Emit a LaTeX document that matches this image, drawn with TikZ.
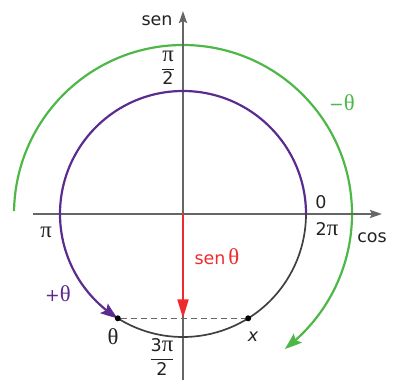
\documentclass[tikz,border=0pt]{standalone}
\usepackage{fontspec}
\setmainfont{DejaVu Sans}
\newfontfamily\gk[Scale=1.3]{Liberation Serif}
\usetikzlibrary{arrows.meta,bending}
\definecolor{grn}{HTML}{4DB848}
\definecolor{pur}{HTML}{5B2C8F}
\definecolor{rd}{HTML}{EE2A2E}
\definecolor{axg}{HTML}{666666}
\definecolor{txt}{HTML}{222222}
\begin{document}
\begin{tikzpicture}[x=1pt,y=1pt,
  font=\fontsize{17.5}{19}\selectfont,
  axis/.style={draw=axg,line width=2pt,-{Stealth[length=12pt,width=8pt,inset=2pt]}},
  lbl/.style={inner sep=0pt,text=txt},
  dot/.style={circle,fill=black,inner sep=0pt,minimum size=6pt},
  frc/.style={inner sep=0pt,text=txt}]
\useasboundingbox (-183,-166) rectangle (210,214);
\coordinate (O) at (0,0);
\coordinate (xs) at (-150,0);
\coordinate (xe) at (199,0);
\coordinate (ys) at (0,-166);
\coordinate (ye) at (0,203);
% green outer arc
\draw[grn,line width=2.2pt,-{Stealth[length=17pt,width=12pt,inset=3pt,bend]}]
  (179:169) arc[start angle=179,end angle=-53,radius=169];
% axes
\draw[axis] (xs) -- (xe);
\draw[axis] (ys) -- (ye);
% unit circle
\draw[black!75,line width=1.7pt] (238:123) arc[start angle=238,end angle=360,radius=123];
\draw[pur,line width=2.2pt,-{Stealth[length=17pt,width=12pt,inset=3pt,bend]}]
  (0:123) arc[start angle=0,end angle=238,radius=123];
% points
\node[dot] (pth) at (238:123) {};
\node[dot] (px) at (302:123) {};
\draw[axg,line width=1.5pt,dash pattern=on 6pt off 4pt] (pth) -- (px);
% red arrow
\draw[rd,line width=2.1pt,-{Triangle[length=19pt,width=11pt]}] (O) -- (O |- pth.center);
% labels
\node[lbl] (sen) at (-26,193) {sen};
\node[lbl] (cos) at (189,-24) {cos};
\node[frc] (half) at (-15,146) {$\displaystyle\frac{\hbox{\gk π}}{\hbox{2}}$};
\node[frc] (threehalf) at (-21,-143) {$\displaystyle\frac{\hbox{3\gk π}}{\hbox{2}}$};
\node[lbl] (zero) at (138,12) {0};
\node[lbl] (twopi) at (144,-15) {2{\gk π}};
\node[lbl] (pi) at (-137,-18) {\gk π};
\node[lbl,text=grn] (mth) at (159,111) {−{\gk θ}};
\node[lbl,text=pur] (pth2) at (-125,-80) {+{\gk θ}};
\node[lbl,text=rd] (sth) at (34,-43) {sen\,{\gk θ}};
\node[lbl] (thl) at (-70,-123) {\gk θ};
\node[lbl] (xl) at (70,-123) {\itshape x};
\end{tikzpicture}
\end{document}
